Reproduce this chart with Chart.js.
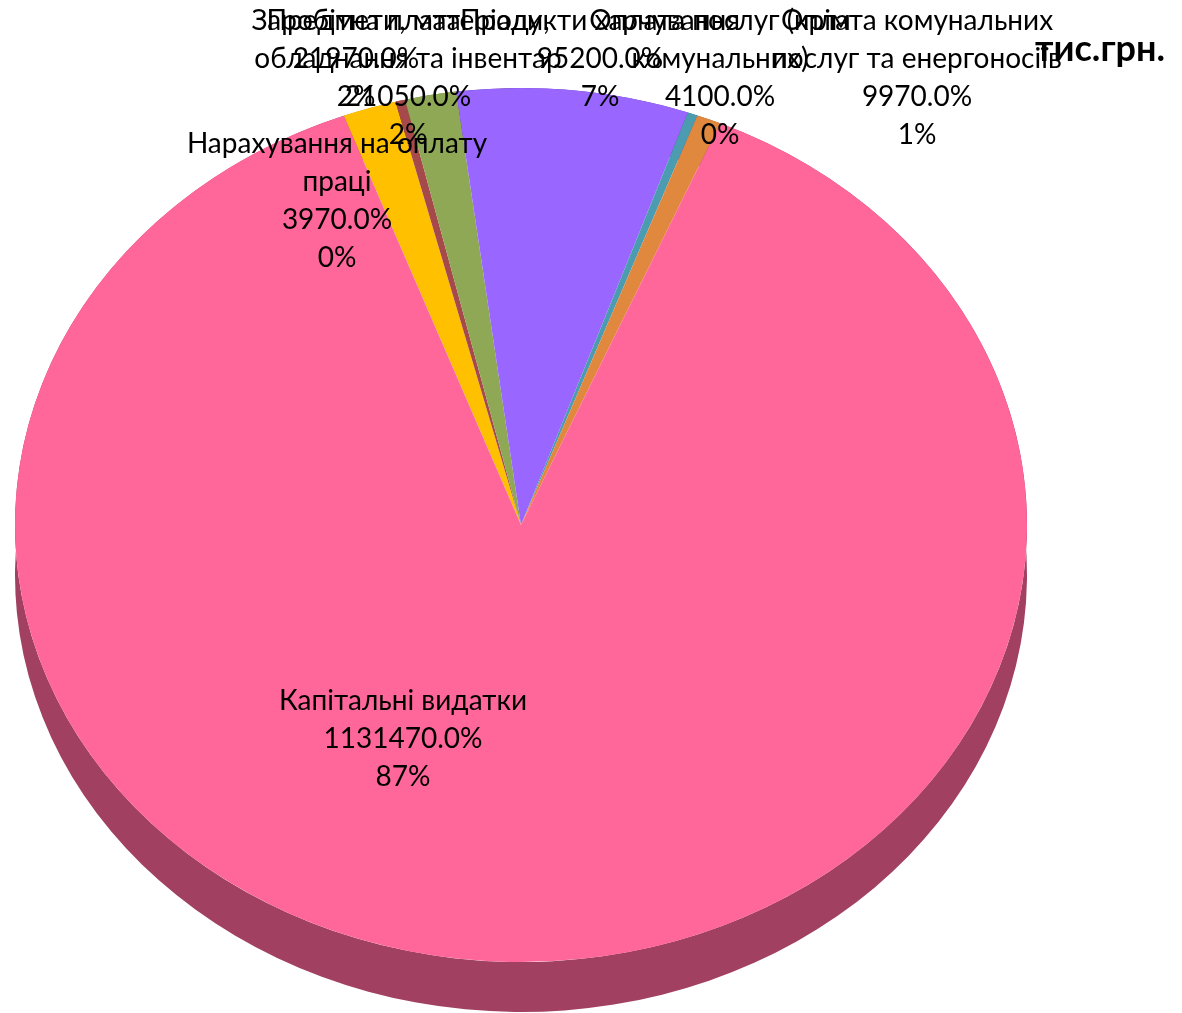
<!DOCTYPE html>
<html>
<head>
<meta charset="utf-8">
<script src="https://cdn.jsdelivr.net/npm/chart.js@4.4.1/dist/chart.umd.min.js"></script>
<style>
  html, body { margin: 0; background: #fff; }
  #wrap { width: 1182px; height: 1013px; }
</style>
</head>
<body>
<div id="wrap"><canvas id="expenses"></canvas></div>
<script>
// budget items, thousand UAH (shown by the source as 0.0% of the raw value)
const categories = [
  ["Заробітна плата"],
  ["Нарахування на оплату", "праці"],
  ["Предмети, матеріали,", "обладнання та інвентар"],
  ["Продукти харчування"],
  ["Оплата послуг (крім", "комунальних)"],
  ["Оплата комунальних", "послуг та енергоносіїв"],
  ["Капітальні видатки"]
];
const values = [21970, 3970, 21050, 95200, 4100, 9970, 1131470];
const shares = [2, 0, 2, 7, 0, 1, 87]; // percent labels as printed
const colors = ["#FFC000", "#A5494B", "#8EA856", "#9966FF", "#4B9BB1", "#E0893E", "#FF6699"];

// darker tone for the pie's side wall
const shade = (hex, f) => {
  const n = parseInt(hex.slice(1), 16);
  const c = [n >> 16, (n >> 8) & 255, n & 255].map(v => Math.round(v * f));
  return `rgb(${c[0]},${c[1]},${c[2]})`;
};
const sideColors = colors.map(c => shade(c, 0.63));

// where the tilted pie sits on the page
const pie = { cx: 521, cy: 525, rx: 506, ry: 437, depth: 50 };

// label blocks: centre x, middle of first line
const labelSpots = [[356, 20], [337, 143], [408, 20], [600, 20], [720, 20], [917, 20], [403, 700]];
const lineGap = 38;

const tilt = {
  id: "tilt",
  beforeDatasetsDraw(chart) {
    const ctx = chart.ctx;
    const arcs = chart.getDatasetMeta(0).data;
    const a0 = arcs[0];
    // side wall: band between the lowered rim and the top rim
    ctx.save();
    arcs.forEach((arc, i) => {
      ctx.beginPath();
      ctx.ellipse(pie.cx, pie.cy + pie.depth, pie.rx, pie.ry, 0, arc.startAngle, arc.endAngle, false);
      ctx.ellipse(pie.cx, pie.cy, pie.rx, pie.ry, 0, arc.endAngle, arc.startAngle, true);
      ctx.closePath();
      ctx.fillStyle = sideColors[i];
      ctx.fill();
    });
    ctx.restore();
    // squash the flat pie into the top face
    ctx.save();
    ctx.translate(pie.cx, pie.cy);
    ctx.scale(pie.rx / a0.outerRadius, pie.ry / a0.outerRadius);
    ctx.translate(-a0.x, -a0.y);
  },
  afterDatasetsDraw(chart) {
    chart.ctx.restore();
  }
};

const sliceLabels = {
  id: "sliceLabels",
  afterDraw(chart) {
    const ctx = chart.ctx;
    ctx.save();
    ctx.font = "28px Lato";
    ctx.fillStyle = "#000";
    ctx.textAlign = "center";
    ctx.textBaseline = "alphabetic";
    categories.forEach((name, i) => {
      const lines = [...name, values[i].toFixed(1) + "%", shares[i] + "%"];
      const [x, y] = labelSpots[i];
      lines.forEach((t, k) => ctx.fillText(t, x, y + 10 + k * lineGap));
    });
    ctx.restore();
  }
};

new Chart(document.getElementById("expenses"), {
  type: "pie",
  data: {
    labels: categories,
    datasets: [{
      data: values,
      backgroundColor: colors,
      borderWidth: 0,
      clip: false
    }]
  },
  options: {
    responsive: true,
    maintainAspectRatio: false,
    animation: false,
    rotation: -20.5,
    layout: { padding: { top: 0, right: 17, bottom: 0, left: 0 } },
    plugins: {
      legend: { display: false },
      tooltip: { enabled: false },
      title: {
        display: true,
        text: "тис.грн.",
        align: "end",
        color: "#000",
        font: { family: "Lato", size: 36, weight: "bold" },
        padding: { top: 28, bottom: 0 }
      }
    }
  },
  plugins: [tilt, sliceLabels]
});
</script>
</body>
</html>
